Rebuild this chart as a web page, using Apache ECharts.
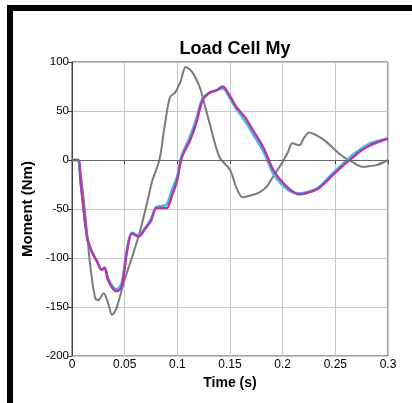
<!DOCTYPE html>
<html lang="en">
<head>
    <meta charset="UTF-8">
    <title>Load Cell My</title>
    <style>
        html, body { margin: 0; padding: 0; background: #fff; }
    </style>
</head>
<body>
<div id="main" style="width: 412px;height:403px;"></div>
<script src="https://cdn.jsdelivr.net/npm/echarts@6/dist/echarts.min.js"></script>
<script type="text/javascript">
    // time (s) and moment (Nm)
    var grayTime = [0, 0.005, 0.010, 0.014, 0.017, 0.022, 0.025, 0.030, 0.034, 0.038, 0.042, 0.050, 0.058, 0.065, 0.071, 0.076, 0.083, 0.088, 0.093, 0.098, 0.103, 0.108, 0.114, 0.119, 0.122, 0.130, 0.140, 0.150, 0.156, 0.162, 0.170, 0.178, 0.185, 0.192, 0.200, 0.205, 0.209, 0.216, 0.220, 0.225, 0.234, 0.242, 0.250, 0.258, 0.266, 0.276, 0.284, 0.290, 0.300];
    var grayMoment = [0, 0, -30, -71, -105, -141, -143, -136, -145, -158, -152, -122, -96, -71, -45, -22, 0, 35, 64, 69, 80, 95, 90, 80, 72, 40, 3, -10, -28, -38, -36, -33, -27, -15, -2, 8, 17, 15, 22, 28, 24, 18, 10, 3, -2, -7, -6, -5, 0];

    var blueTime = [0, 0.005, 0.008, 0.012, 0.015, 0.019, 0.024, 0.028, 0.031, 0.034, 0.038, 0.042, 0.047, 0.052, 0.057, 0.063, 0.069, 0.075, 0.080, 0.086, 0.090, 0.095, 0.100, 0.104, 0.112, 0.118, 0.124, 0.131, 0.137, 0.143, 0.150, 0.156, 0.164, 0.172, 0.182, 0.191, 0.200, 0.207, 0.215, 0.225, 0.234, 0.248, 0.258, 0.266, 0.275, 0.283, 0.292, 0.300];
    var blueMoment = [0, 0, -20, -60, -82, -94, -104, -112, -110, -120, -128, -132, -126, -92, -74, -77, -70, -60, -48, -47, -45, -30, -16, 4, 24, 42, 63, 69, 71, 73, 63, 52, 40, 26, 8, -14, -26, -32, -34, -32, -28, -13, -3, 5, 12, 17, 20, 22];

    var magentaTime = [0, 0.006, 0.008, 0.012, 0.015, 0.019, 0.024, 0.028, 0.031, 0.034, 0.038, 0.042, 0.047, 0.052, 0.057, 0.063, 0.069, 0.075, 0.080, 0.086, 0.090, 0.095, 0.100, 0.104, 0.112, 0.118, 0.124, 0.131, 0.137, 0.143, 0.150, 0.156, 0.164, 0.172, 0.182, 0.191, 0.200, 0.207, 0.215, 0.225, 0.234, 0.248, 0.258, 0.267, 0.275, 0.283, 0.292, 0.300];
    var magentaMoment = [0, 0, -20, -60, -82, -94, -104, -112, -110, -122, -130, -134, -130, -95, -75, -78, -71, -62, -49, -49, -49, -36, -20, 2, 20, 38, 61, 69, 71, 75, 65, 54, 44, 30, 12, -10, -23, -30, -35, -33, -29, -15, -5, 3, 10, 15, 19, 22];

    function pairs(t, v) {
        var out = [];
        for (var i = 0; i < t.length; i++) {
            out.push([t[i], v[i]]);
        }
        return out;
    }

    var myChart = echarts.init(document.getElementById('main'));
    var option = {
        backgroundColor: '#fff',
        animation: false,
        title: {
            text: 'Load Cell My',
            left: 230,
            textAlign: 'center',
            top: 35,
            textStyle: {
                fontFamily: 'Liberation Sans',
                fontSize: 18,
                fontWeight: 'bold',
                color: '#000'
            }
        },
        graphic: [
            { type: 'rect', shape: { x: 7, y: 5, width: 405, height: 6 }, style: { fill: '#000' } },
            { type: 'rect', shape: { x: 7, y: 5, width: 6, height: 398 }, style: { fill: '#000' } }
        ],
        grid: {
            left: 72,
            right: 24,
            top: 62,
            bottom: 47,
            show: true,
            borderColor: '#444',
            borderWidth: 1
        },
        xAxis: {
            type: 'value',
            min: 0,
            max: 0.3,
            interval: 0.05,
            name: 'Time (s)',
            nameLocation: 'middle',
            nameGap: 18,
            nameTextStyle: {
                fontFamily: 'Liberation Sans',
                fontSize: 14,
                fontWeight: 'bold',
                color: '#000'
            },
            axisLine: { lineStyle: { color: '#444' } },
            axisTick: { length: 4, lineStyle: { color: '#444' } },
            axisLabel: {
                fontFamily: 'Liberation Sans',
                fontSize: 12,
                color: '#000',
                margin: 3,
                formatter: function (v) { return String(+v.toFixed(2)); }
            },
            splitLine: { lineStyle: { color: '#c8c8c8' } }
        },
        yAxis: {
            type: 'value',
            min: -200,
            max: 100,
            interval: 50,
            name: 'Moment (Nm)',
            nameLocation: 'middle',
            nameGap: 24,
            nameTextStyle: {
                fontFamily: 'Liberation Sans',
                fontSize: 15,
                fontWeight: 'bold',
                color: '#000'
            },
            axisLine: { show: true, lineStyle: { color: '#444' } },
            axisTick: { show: true, length: 4, lineStyle: { color: '#444' } },
            axisLabel: {
                fontFamily: 'Liberation Sans',
                fontSize: 11.5,
                color: '#000',
                margin: 3
            },
            splitLine: { lineStyle: { color: '#c8c8c8' } }
        },
        series: [{
            name: 'gray',
            type: 'line',
            showSymbol: false,
            smooth: 0.3,
            data: pairs(grayTime, grayMoment),
            lineStyle: { color: '#7a7a7a', width: 2 },
            markLine: {
                silent: true,
                symbol: 'none',
                label: { show: false },
                lineStyle: { color: '#666', width: 1, type: 'solid' },
                data: [{ yAxis: 0 }]
            }
        }, {
            name: 'blue',
            type: 'line',
            showSymbol: false,
            smooth: 0.3,
            data: pairs(blueTime, blueMoment),
            lineStyle: { color: '#4fb8e6', width: 2.5 }
        }, {
            name: 'magenta',
            type: 'line',
            showSymbol: false,
            smooth: 0.3,
            data: pairs(magentaTime, magentaMoment),
            lineStyle: { color: '#b23aa8', width: 2.5 }
        }]
    };
    myChart.setOption(option);
</script>
</body>
</html>
